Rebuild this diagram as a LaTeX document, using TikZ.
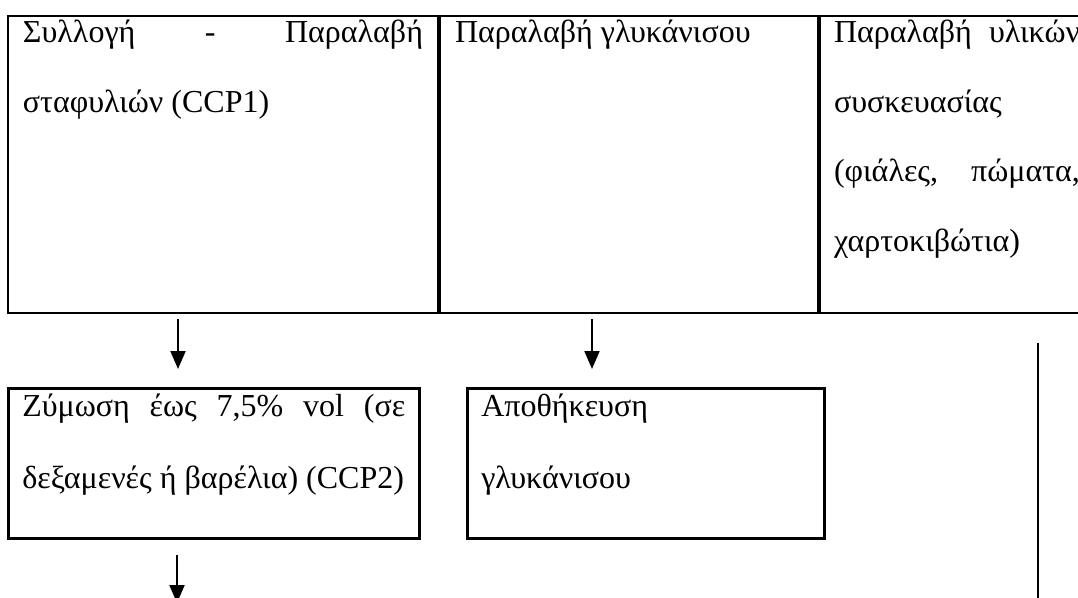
\documentclass[tikz,border=0pt]{standalone}
\usepackage{fontspec}
\setmainfont{Liberation Serif}
\usetikzlibrary{positioning,arrows.meta}

\begin{document}
\begin{tikzpicture}[
        x=1pt, y=-1pt,
        font=\fontsize{32}{69.5}\selectfont,
        cell/.style={rectangle, draw, line width=2pt, anchor=north west, inner xsep=15pt, inner ysep=0pt, text height=27pt, text depth=270.5pt, align=justify},
        stage/.style={rectangle, draw, line width=2.6pt, anchor=north west, inner xsep=15pt, inner ysep=0pt, text height=28pt, text depth=122pt, align=justify, font=\fontsize{32}{72}\selectfont},
        flow/.style={-{Triangle[length=18pt, width=15pt]}, line width=2pt},
        link/.style={line width=2.8pt}
    ]

    \path[use as bounding box, fill=white] (0,0) rectangle (1078,597);

    % Receiving
    \node[cell, text width=400pt] (grapes) at (7,14.5) {Συλλογή - Παραλαβή\linebreak σταφυλιών (CCP1)};
    \node[cell, text width=348pt, right=0pt of grapes] (anise) {Παραλαβή γλυκάνισου};
    \node[cell, text width=246pt, inner xsep=14pt, right=0pt of anise] (packing) {Παραλαβή υλικών\linebreak συσκευασίας\\ (φιάλες, πώματα,\linebreak χαρτοκιβώτια)};

    % Processing
    \node[stage, text width=383pt, inner xsep=14pt] (ferment) at (7,387) {Ζύμωση έως 7,5\% vol (σε\linebreak δεξαμενές ή βαρέλια) (CCP2)};
    \node[stage, text width=329pt, inner xsep=14pt] (storage) at (466,387) {Αποθήκευση\\ γλυκάνισου};

    % Flow
    \draw[flow, shorten <=5pt, shorten >=18pt] ([xshift=-45pt]grapes.south) -- ([xshift=-45pt]grapes.south |- ferment.north);
    \draw[flow, shorten <=5pt, shorten >=18pt] ([xshift=-37pt]anise.south) -- ([xshift=-37pt]anise.south |- storage.north);
    \coordinate (next) at (177,603);
    \draw[flow, shorten <=15pt] (ferment.south -| next) -- (next);
    \coordinate (packdown) at (1038,610);
    \draw[link, shorten <=29pt] (packing.south -| packdown) -- (packdown);

\end{tikzpicture}
\end{document}
